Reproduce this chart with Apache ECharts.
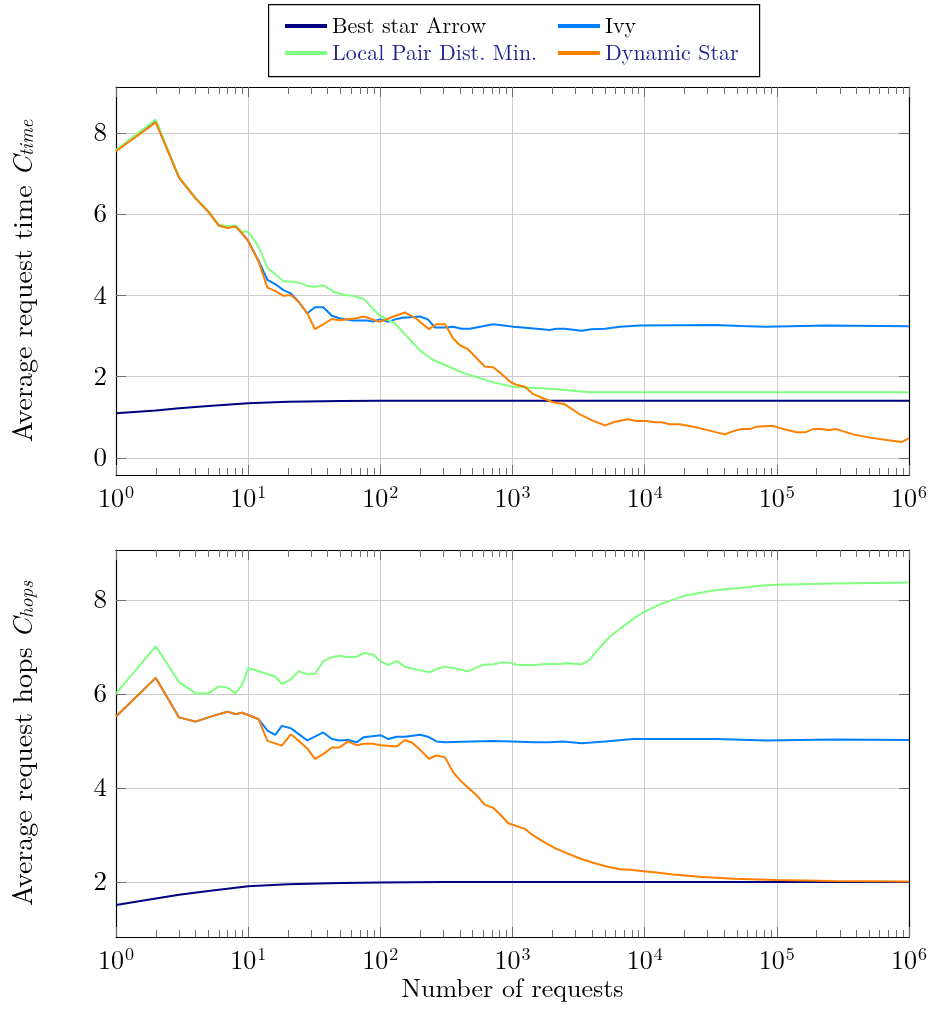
<!DOCTYPE html>
<html>
<head>
<meta charset="utf-8">
<title>Average request time / hops</title>
<script src="https://cdn.jsdelivr.net/npm/echarts@6/dist/echarts.min.js"></script>
<style>
  html, body { margin: 0; padding: 0; background: #fff; }
  #main { width: 933px; height: 1016px; }
</style>
</head>
<body>
<div id="main"></div>
<script>
// values, pairs of [number of requests, value]
var names = ['Best star Arrow', 'Ivy', 'Local Pair Dist. Min.', 'Dynamic Star'];
var colors = ['#000080', '#0080ff', '#80ff80', '#ff8000'];

var decadeTicks = [1, 10, 100, 1000, 10000, 100000, 1000000];
var yTicks = [0, 2, 4, 6, 8];

// top plot: average request time
var timeArrow = [[1,1.10],[2,1.17],[3,1.22],[5,1.28],[10,1.345],[20,1.38],[50,1.40],[100,1.41],[300,1.41],[1000000,1.41]];
var timeIvy = [[1,7.56],[2,8.28],[3,6.90],[4,6.39],[5,6.06],[6,5.72],[7,5.67],[8,5.70],[9,5.53],[10,5.34],[12,4.85],[14,4.38],[16,4.28],[18.5,4.13],[21,4.05],[24,3.85],[28,3.56],[32,3.71],[37,3.71],[43,3.50],[49,3.44],[62,3.38],[79,3.38],[88,3.36],[99,3.41],[115,3.35],[129,3.41],[148,3.45],[200,3.48],[229,3.41],[259,3.21],[316,3.21],[355,3.23],[412,3.18],[476,3.18],[714,3.29],[803,3.27],[1014,3.23],[1520,3.18],[1920,3.15],[2140,3.18],[2490,3.18],[3330,3.13],[3960,3.17],[5010,3.18],[6490,3.23],[9180,3.26],[35000,3.27],[52500,3.25],[83000,3.23],[237000,3.26],[1000000,3.24]];
var timeLocal = [[1,7.58],[2,8.33],[3,6.92],[4,6.40],[5,6.07],[6,5.74],[7,5.70],[8,5.72],[9,5.57],[10,5.57],[12,5.20],[14,4.67],[16,4.53],[18.5,4.34],[21,4.34],[24,4.32],[28.5,4.23],[32,4.21],[37,4.25],[45,4.08],[54,4.01],[62,3.99],[75,3.91],[99,3.50],[129,3.31],[200,2.64],[251,2.41],[424,2.09],[715,1.86],[1014,1.75],[1920,1.70],[3850,1.615],[1000000,1.615]];
var timeDynamic = [[1,7.55],[2,8.26],[3,6.90],[4,6.39],[5,6.06],[6,5.72],[7,5.66],[8,5.70],[9,5.53],[10,5.34],[12,4.83],[14,4.19],[16,4.11],[18.5,3.99],[21,4.01],[24,3.85],[28,3.56],[32,3.17],[37,3.29],[43,3.42],[49,3.39],[66,3.44],[75,3.48],[99,3.35],[126,3.48],[153,3.58],[188,3.42],[233,3.17],[266,3.29],[309,3.29],[356,2.94],[398,2.78],[462,2.67],[617,2.25],[714,2.23],[803,2.10],[955,1.88],[1070,1.80],[1240,1.75],[1435,1.57],[1760,1.45],[2030,1.37],[2490,1.32],[3240,1.07],[3960,0.93],[5010,0.80],[5960,0.89],[7500,0.95],[8710,0.91],[10330,0.91],[11940,0.88],[13430,0.88],[15490,0.83],[18450,0.83],[23280,0.77],[40460,0.58],[46770,0.66],[54080,0.71],[62520,0.71],[70150,0.77],[93760,0.79],[112200,0.71],[140900,0.63],[162900,0.63],[188400,0.71],[217800,0.71],[244900,0.69],[281800,0.71],[378400,0.58],[504700,0.50],[676100,0.44],[877000,0.39],[1000000,0.48]];

// bottom plot: average request hops
var hopsArrow = [[1,1.51],[2,1.65],[3,1.73],[5,1.81],[10,1.91],[20,1.95],[50,1.98],[100,1.99],[300,2.0],[1000000,2.0]];
var hopsIvy = [[1,5.52],[2,6.34],[3,5.50],[4,5.41],[5,5.50],[6,5.57],[7,5.62],[8,5.57],[9,5.60],[10,5.55],[12,5.46],[14,5.22],[16,5.13],[18,5.32],[21,5.27],[24,5.15],[28,5.01],[32,5.09],[37,5.18],[43,5.04],[49,5.01],[57,5.02],[66,4.97],[75,5.08],[101,5.12],[115,5.04],[133,5.09],[155,5.09],[200,5.13],[229,5.09],[266,4.99],[309,4.97],[412,4.98],[714,5.00],[1140,4.98],[1435,4.97],[1920,4.97],[2420,4.99],[3330,4.95],[5010,4.99],[8190,5.04],[14620,5.04],[35000,5.04],[83000,5.01],[266700,5.03],[1000000,5.02]];
var hopsLocal = [[1,6.01],[2,7.01],[3,6.25],[4,6.01],[5,6.01],[6,6.16],[7,6.13],[8,6.01],[9,6.19],[10,6.55],[16,6.37],[18,6.21],[21,6.31],[24,6.48],[28,6.42],[32,6.43],[37,6.69],[43,6.78],[49,6.81],[57,6.78],[66,6.79],[75,6.87],[88,6.84],[101,6.69],[115,6.61],[133,6.70],[155,6.57],[200,6.50],[237,6.46],[266,6.53],[309,6.58],[356,6.55],[462,6.48],[550,6.58],[617,6.62],[714,6.63],[803,6.66],[929,6.67],[1072,6.62],[1435,6.61],[1660,6.63],[1920,6.64],[2220,6.63],[2570,6.65],[3330,6.63],[3800,6.72],[4325,6.91],[5460,7.22],[6460,7.38],[7300,7.49],[8500,7.63],[10000,7.75],[13000,7.90],[16200,8.00],[20750,8.10],[32960,8.20],[58880,8.27],[74000,8.30],[99540,8.32],[266700,8.35],[1000000,8.37]];
var hopsDynamic = [[1,5.52],[2,6.34],[3,5.50],[4,5.41],[5,5.50],[6,5.57],[7,5.62],[8,5.57],[9,5.60],[10,5.55],[12,5.46],[14,5.00],[18,4.90],[21,5.14],[24,5.01],[28,4.84],[32,4.62],[37,4.72],[43,4.86],[49,4.86],[57,4.99],[66,4.91],[75,4.94],[88,4.94],[101,4.91],[133,4.88],[153,5.02],[174,4.96],[200,4.81],[233,4.62],[266,4.69],[309,4.65],[356,4.33],[412,4.13],[537,3.84],[617,3.64],[714,3.58],[803,3.44],[929,3.25],[955,3.23],[1240,3.13],[1435,2.99],[1710,2.86],[2090,2.72],[2490,2.63],[3240,2.50],[4200,2.40],[5140,2.33],[6490,2.27],[7730,2.26],[9750,2.23],[12300,2.20],[16440,2.16],[26180,2.11],[46770,2.07],[99540,2.04],[266700,2.02],[1000000,2.01]];

// minor ticks of the log axis: 2..9 in every decade
var minorTicks = [];
for (var d = 1; d < 1000000; d *= 10) {
  for (var k = 2; k <= 9; k++) minorTicks.push(k * d);
}

var font = '"Latin Modern Roman", "Liberation Serif", "DejaVu Serif", serif';
var frameColor = '#000';
var tickColor = '#6e6e6e';
var gridColor = '#cccccc';

function logAxis(gi, pos, opts) {
  var ax = {
    gridIndex: gi, type: 'log', logBase: 10, min: 1, max: 1000000, position: pos,
    axisLine: { show: !!opts.line, onZero: false, lineStyle: { color: frameColor, width: 1.2 } },
    axisTick: { show: true, inside: true, length: opts.tickLen, lineStyle: { color: tickColor, width: 1 } },
    axisLabel: { show: false },
    splitLine: { show: !!opts.split, lineStyle: { color: gridColor, width: 1 } }
  };
  if (opts.ticks) ax.axisTick.customValues = opts.ticks;
  if (opts.labels) {
    ax.axisLabel = {
      show: true, margin: 8, fontFamily: font, color: '#000',
      formatter: function (v) { return '{b|10}{s|' + Math.round(Math.log10(v)) + '}'; },
      rich: {
        b: { fontSize: 26, fontFamily: font, color: '#000', verticalAlign: 'bottom' },
        s: { fontSize: 18, fontFamily: font, color: '#000', verticalAlign: 'bottom', padding: [0, 0, 11, 1] }
      }
    };
  }
  if (opts.name) {
    ax.name = opts.name;
    ax.nameLocation = 'middle';
    ax.nameGap = 39;
    ax.nameTextStyle = { fontSize: 26, fontFamily: font, color: '#000' };
  }
  return ax;
}

function valueAxis(gi, pos, min, max, opts) {
  var ax = {
    gridIndex: gi, type: 'value', min: min, max: max, position: pos,
    axisLine: { show: true, onZero: false, lineStyle: { color: frameColor, width: 1.2 } },
    axisTick: { show: true, inside: true, length: 10, customValues: yTicks, lineStyle: { color: tickColor, width: 1 } },
    axisLabel: { show: false },
    splitLine: { show: !!opts.split, lineStyle: { color: gridColor, width: 1 } }
  };
  if (opts.labels) {
    ax.axisLabel = { show: true, customValues: yTicks, margin: 9, fontSize: 27, fontFamily: font, color: '#000' };
  }
  if (opts.name) {
    ax.name = opts.name;
    ax.nameLocation = 'middle';
    ax.nameRotate = 90;
    ax.nameGap = 79;
    ax.nameTextStyle = {
      fontSize: 28, fontFamily: font, color: '#000',
      rich: {
        t: { fontSize: 28, fontFamily: font, color: '#000', verticalAlign: 'bottom' },
        c: { fontSize: 28, fontFamily: font, color: '#000', fontStyle: 'italic', verticalAlign: 'bottom' },
        sub: { fontSize: 19, fontFamily: font, color: '#000', fontStyle: 'italic', verticalAlign: 'bottom', padding: [7, 0, 0, 0] }
      }
    };
  }
  return ax;
}

function line(i, data, xi, yi) {
  return {
    name: names[i], type: 'line', xAxisIndex: xi, yAxisIndex: yi, data: data,
    showSymbol: false, symbol: 'none', z: 2 + i,
    lineStyle: { width: 2, color: colors[i] }, itemStyle: { color: colors[i] }
  };
}

var legendText = { fontSize: 22, fontFamily: font, color: '#000' };
var blueText = { color: '#23238e' };

var option = {
  backgroundColor: '#fff',
  animation: false,
  graphic: [{
    type: 'rect', left: 268, top: 4, z: 10,
    shape: { width: 491, height: 72 },
    style: { fill: 'rgba(0,0,0,0)', stroke: '#000', lineWidth: 1.2 }
  }],
  legend: [{
    left: 280, top: 10, orient: 'vertical', itemGap: 5, itemWidth: 42, itemHeight: 4,
    icon: 'rect', selectedMode: false, textStyle: legendText,
    data: [{ name: names[0] }, { name: names[2], textStyle: blueText }]
  }, {
    left: 553, top: 10, orient: 'vertical', itemGap: 5, itemWidth: 42, itemHeight: 4,
    icon: 'rect', selectedMode: false, textStyle: legendText,
    data: [{ name: names[1] }, { name: names[3], textStyle: blueText }]
  }],
  grid: [
    { left: 116, right: 24, top: 87, height: 388 },
    { left: 116, right: 24, top: 550, height: 387 }
  ],
  xAxis: [
    logAxis(0, 'bottom', { line: true, split: true, labels: true, tickLen: 10 }),
    logAxis(0, 'top', { line: true, tickLen: 10 }),
    logAxis(0, 'bottom', { ticks: minorTicks, tickLen: 7 }),
    logAxis(0, 'top', { ticks: minorTicks, tickLen: 7 }),
    logAxis(1, 'bottom', { line: true, split: true, labels: true, tickLen: 10, name: 'Number of requests' }),
    logAxis(1, 'top', { line: true, tickLen: 10 }),
    logAxis(1, 'bottom', { ticks: minorTicks, tickLen: 7 }),
    logAxis(1, 'top', { ticks: minorTicks, tickLen: 7 })
  ],
  yAxis: [
    valueAxis(0, 'left', -0.42, 9.13, { split: true, labels: true, name: '{t|Average request time }{c|C}{sub|time}' }),
    valueAxis(0, 'right', -0.42, 9.13, {}),
    valueAxis(1, 'left', 0.83, 9.06, { split: true, labels: true, name: '{t|Average request hops }{c|C}{sub|hops}' }),
    valueAxis(1, 'right', 0.83, 9.06, {})
  ],
  series: [
    line(0, timeArrow, 0, 0),
    line(1, timeIvy, 0, 0),
    line(2, timeLocal, 0, 0),
    line(3, timeDynamic, 0, 0),
    line(0, hopsArrow, 4, 2),
    line(1, hopsIvy, 4, 2),
    line(2, hopsLocal, 4, 2),
    line(3, hopsDynamic, 4, 2)
  ]
};

var chart = echarts.init(document.getElementById('main'), null, { renderer: 'canvas' });
chart.setOption(option);
</script>
</body>
</html>
